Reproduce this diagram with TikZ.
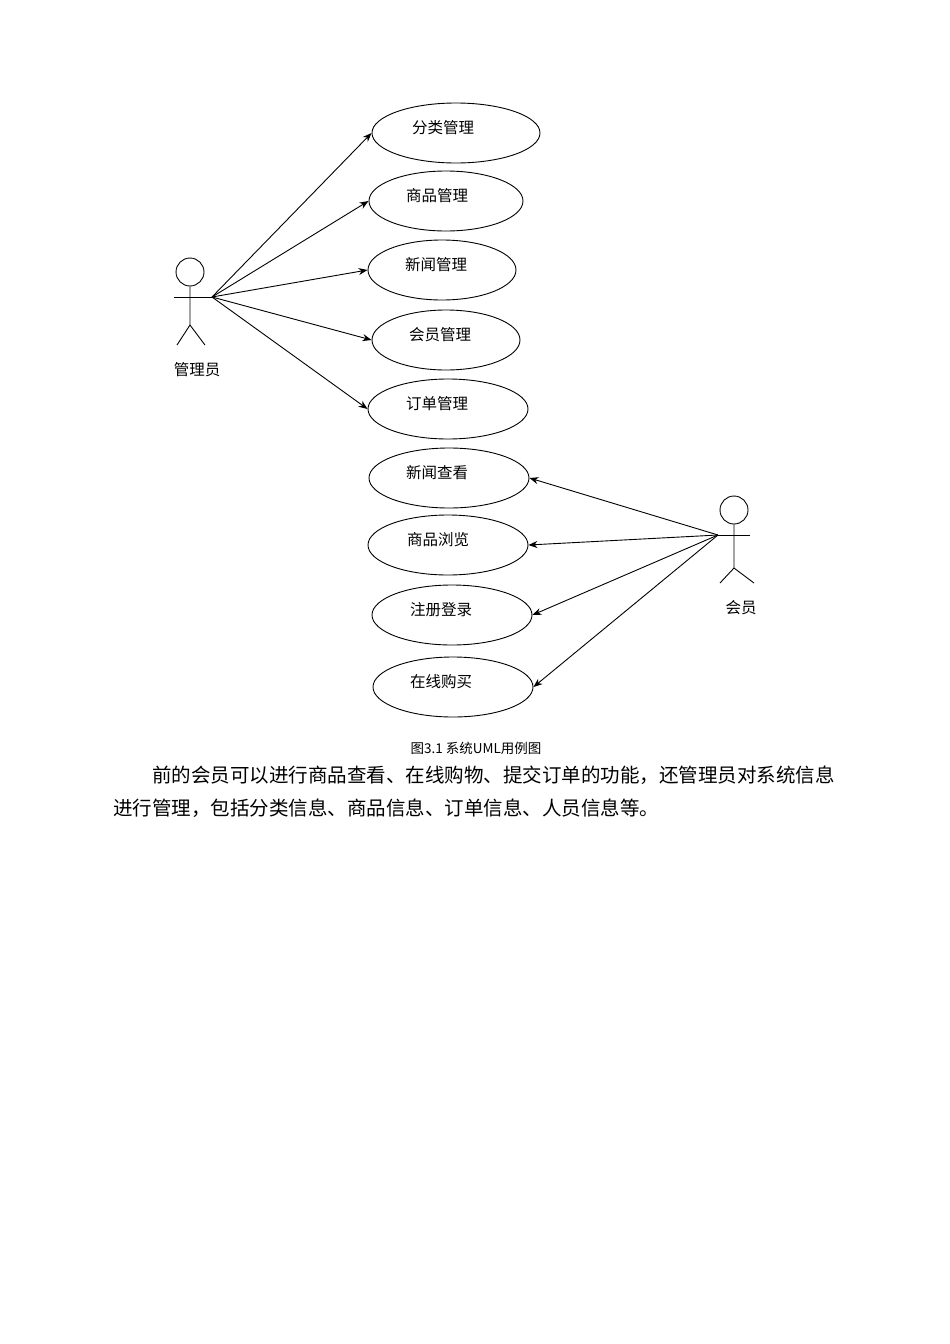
\documentclass[tikz,border=0pt]{standalone}
\usepackage{fontspec}
\newfontfamily\cjk{Noto Sans CJK SC}
\usetikzlibrary{shapes.geometric,arrows.meta}
\begin{document}
\begin{tikzpicture}[x=1pt,y=-1pt,
  uc/.style={draw,ellipse,line width=0.9pt,inner sep=0pt,minimum height=60pt},
  tx/.style={font=\cjk\fontsize{15.5}{18}\selectfont,inner sep=0pt},
  ln/.style={line width=0.9pt},
  ar/.style={line width=0.9pt,-{Stealth[length=9pt,width=7pt]}}]
\useasboundingbox[fill=white] (0,0) rectangle (950,1344);
\node[uc,minimum width=168pt] (e1) at (456,133) {};
\node[uc,minimum width=154pt] (e2) at (446,201) {};
\node[uc,minimum width=148pt] (e3) at (442,270) {};
\node[uc,minimum width=148pt] (e4) at (446,340) {};
\node[uc,minimum width=160pt] (e5) at (448,409) {};
\node[uc,minimum width=160pt] (e6) at (449,478) {};
\node[uc,minimum width=160pt] (e7) at (448,545) {};
\node[uc,minimum width=160pt] (e8) at (452,615) {};
\node[uc,minimum width=160pt] (e9) at (453,687) {};
\node[tx] (t1) at (443,128) {分类管理};
\node[tx] (t2) at (437,196) {商品管理};
\node[tx] (t3) at (436,265) {新闻管理};
\node[tx] (t4) at (440,335) {会员管理};
\node[tx] (t5) at (437,404) {订单管理};
\node[tx] (t6) at (437,473) {新闻查看};
\node[tx] (t7) at (438,540) {商品浏览};
\node[tx] (t8) at (441,610) {注册登录};
\node[tx] (t9) at (441,682) {在线购买};
% actor 1
\node[draw,circle,line width=0.9pt,minimum size=28pt,inner sep=0pt] (h1) at (190,272) {};
\coordinate (a1) at (212,297);
\draw[ln] (h1.south) -- (190,325) -- (177,345);
\draw[ln] (190,325) -- (205,345);
\draw[ln] (174,297) -- (a1);
\node[tx] (l1) at (197,370) {管理员};
% actor 2
\node[draw,circle,line width=0.9pt,minimum size=28pt,inner sep=0pt] (h2) at (734,510) {};
\coordinate (a2) at (718,535);
\draw[ln] (h2.south) -- (734,568) -- (720,583);
\draw[ln] (734,568) -- (754,583);
\draw[ln] (a2) -- (750,535);
\node[tx] (l2) at (741,608) {会员};
\foreach \e in {e1,e2,e3,e4,e5} \draw[ar] (a1) -- (\e.west);
\foreach \e in {e6,e7,e8,e9} \draw[ar] (a2) -- (\e.east);
\node[font=\cjk\fontsize{13.5}{16}\selectfont] (cap) at (476,748) {图3.1 系统UML用例图};
\node[font=\cjk\fontsize{19.5}{33}\selectfont,anchor=north west,inner sep=0pt,align=left] (p) at (113,766) {\hspace*{39pt}前的会员可以进行商品查看、在线购物、提交订单的功能，还管理员对系统信息\\进行管理，包括分类信息、商品信息、订单信息、人员信息等。};
\end{tikzpicture}
\end{document}
